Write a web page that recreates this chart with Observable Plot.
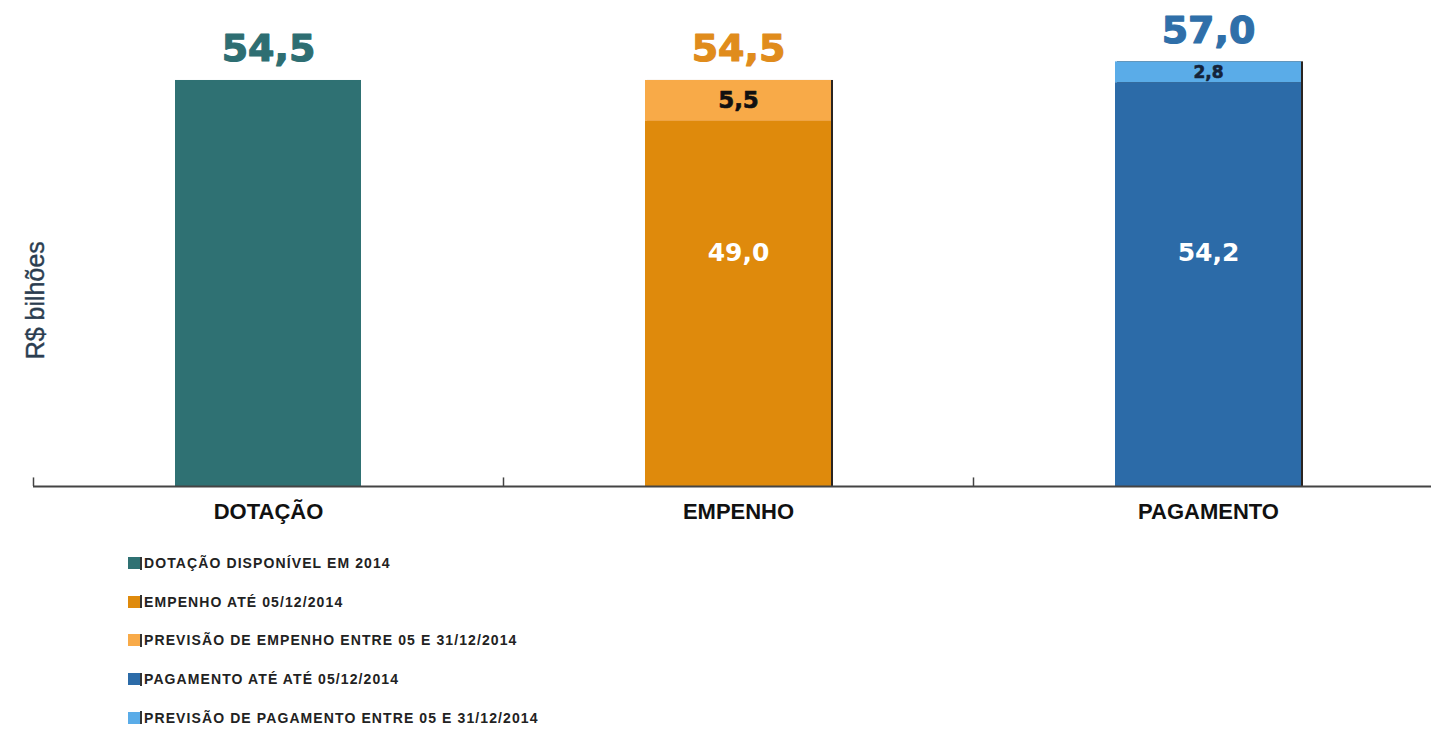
<!DOCTYPE html>
<html>
<head>
<meta charset="utf-8">
<script src="https://cdn.jsdelivr.net/npm/d3@7"></script>
<script src="https://cdn.jsdelivr.net/npm/@observablehq/plot@0.6"></script>
<style>
  html, body { margin: 0; padding: 0; background: #fff; }
  #chart { position: relative; width: 1431px; height: 735px; overflow: hidden; }
  #legend { position: absolute; left: 128px; top: 544px; font-family: "Liberation Sans", Arial, sans-serif; font-weight: 700; font-size: 14px; color: #222; }
  .row { display: flex; align-items: center; height: 38.6px; }
  .sw { width: 12px; height: 12px; margin-right: 0px; }
  .bar { width: 2px; height: 13px; background: #333; margin-right: 2px; }
  .lab { letter-spacing: 1.1px; }
</style>
</head>
<body>
<div id="chart"></div>
<script>
const categories = ["DOTAÇÃO", "EMPENHO", "PAGAMENTO"];
const executed = [54.5, 49.0, 54.2];
const forecast = [0, 5.5, 2.8];
const totals = [54.5, 54.5, 57.0];
const seriesNames = [
  "DOTAÇÃO DISPONÍVEL EM 2014",
  "EMPENHO ATÉ 05/12/2014",
  "PREVISÃO DE EMPENHO ENTRE 05 E 31/12/2014",
  "PAGAMENTO ATÉ ATÉ 05/12/2014",
  "PREVISÃO DE PAGAMENTO ENTRE 05 E 31/12/2014"
];
const seriesColors = ["#2f7173", "#df8a0c", "#f8aa48", "#2c6ba8", "#5aace8"];
const baseSeries = [0, 1, 3];
const forecastSeries = [null, 2, 4];
const totalColors = ["#2e6e72", "#e08c1c", "#2f6fa9"];
const forecastLabelColors = [null, "#111111", "#14233a"];
const yTitle = "R$ bilhões";

const fmt = v => d3.format(".1f")(v).replace(".", ",");

const rows = [];
categories.forEach((c, i) => {
  rows.push({cat: c, series: seriesNames[baseSeries[i]], value: executed[i]});
  if (forecastSeries[i] !== null) rows.push({cat: c, series: seriesNames[forecastSeries[i]], value: forecast[i]});
});
const cats = categories.map((c, i) => ({cat: c, i, executed: executed[i], forecast: forecast[i], total: totals[i]}));
const shadowCats = cats.filter(d => d.forecast > 0);
const innerLabels = cats.filter(d => d.forecast > 0);

const numFont = "'DejaVu Sans', 'Open Sans', sans-serif";

const plot = Plot.plot({
  width: 1431,
  height: 535,
  marginTop: 39,
  marginBottom: 49,
  marginLeft: 33,
  marginRight: 0,
  x: {domain: categories, range: [33, 1443], paddingInner: 0.604, paddingOuter: 0.302, label: null},
  y: {domain: [0, 60], axis: null},
  color: {domain: seriesNames, range: seriesColors},
  style: {fontFamily: "'Liberation Sans', Arial, sans-serif", overflow: "visible"},
  marks: [
    Plot.barY(shadowCats, {x: "cat", y: "total", fill: "#2a2420", dx: 2}),
    Plot.barY(rows, {x: "cat", y: "value", fill: "series"}),
    Plot.ruleY([0], {stroke: "#444", strokeWidth: 2}),
    Plot.ruleX(categories, {x: d => d, dx: -235, y1: 0, y2: 1.15, stroke: "#444", strokeWidth: 1.5}),
    Plot.axisX({tickSize: 0, tickPadding: 17, fontSize: 22, fontWeight: "bold", fill: "#111"}),
    Plot.text(cats, {x: "cat", y: "total", text: d => fmt(d.total), fill: (d) => totalColors[d.i], stroke: (d) => totalColors[d.i], strokeWidth: 1.2, lineAnchor: "bottom", dy: -19, fontSize: 38, fontWeight: 700, fontFamily: numFont, letterSpacing: "2px"}),
    Plot.text(innerLabels, {x: "cat", y: () => 31.4, text: d => fmt(d.executed), fill: "white", fontSize: 25, fontWeight: 700, fontFamily: numFont, letterSpacing: "2px"}),
    Plot.text(innerLabels, {x: "cat", y: d => d.executed + d.forecast / 2, text: d => fmt(d.forecast), fill: d => forecastLabelColors[d.i], stroke: d => forecastLabelColors[d.i], strokeWidth: 0.6, fontSize: d => d.forecast > 4 ? 23 : 17, fontWeight: 700, fontFamily: numFont, letterSpacing: "1.5px"}),
    Plot.text([yTitle], {frameAnchor: "left", dx: 2, textAnchor: "middle", text: d => d, rotate: -90, y: () => 25, fontSize: 25, fill: "#2b3d50", stroke: "#2b3d50", strokeWidth: 0.4, fontFamily: "'Liberation Sans', Arial, sans-serif"})
  ]
});
document.getElementById("chart").appendChild(plot);

const legend = document.createElement("div");
legend.id = "legend";
seriesNames.forEach((s, i) => {
  const r = document.createElement("div");
  r.className = "row";
  const sw = document.createElement("div");
  sw.className = "sw";
  sw.style.background = seriesColors[i];
  const b = document.createElement("div");
  b.className = "bar";
  const l = document.createElement("span");
  l.className = "lab";
  l.textContent = s;
  r.appendChild(sw); r.appendChild(b); r.appendChild(l);
  legend.appendChild(r);
});
document.getElementById("chart").appendChild(legend);
</script>
</body>
</html>
